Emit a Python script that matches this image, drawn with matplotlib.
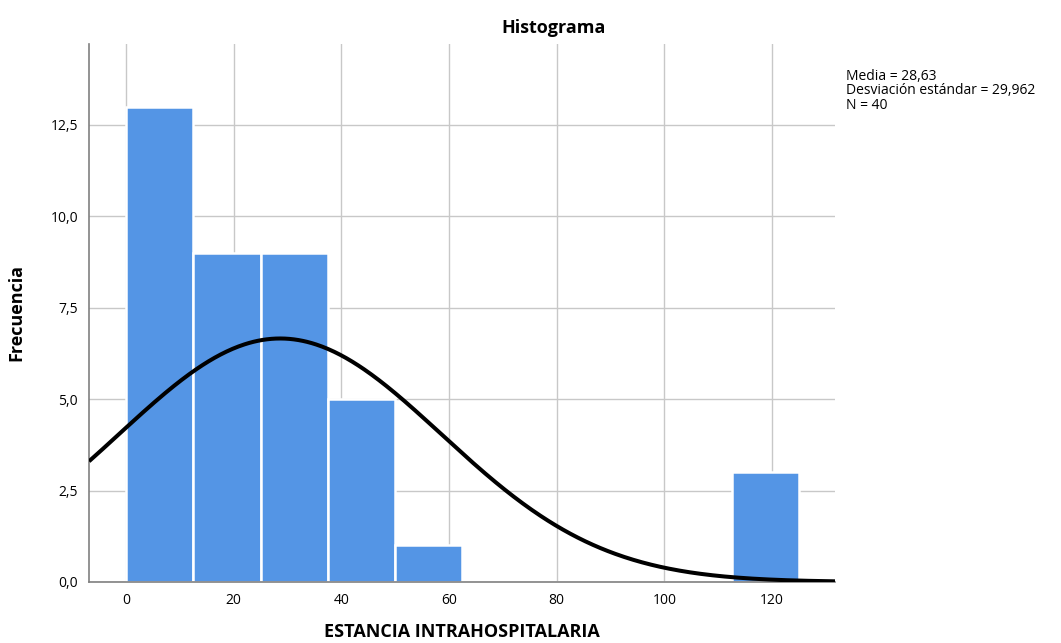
import numpy as np
import matplotlib
matplotlib.use('Agg')
import matplotlib.pyplot as plt

# Histogram counts (bins of width 12.5 starting at 0)
bin_edges = [0, 12.5, 25, 37.5, 50, 62.5, 75, 87.5, 100, 112.5, 125]
counts = [13, 9, 9, 5, 1, 0, 0, 0, 0, 3]

# Summary stats shown in the chart
mean = 28.63
std = 29.962
n = 40

x_ticks = [0, 20, 40, 60, 80, 100, 120]
y_ticks = [0.0, 2.5, 5.0, 7.5, 10.0, 12.5]
y_tick_labels = ['0,0', '2,5', '5,0', '7,5', '10,0', '12,5']

plt.rcParams['font.family'] = ['Open Sans', 'DejaVu Sans']

fig = plt.figure(figsize=(10.61, 6.43), dpi=100)
ax = fig.add_axes([0.0839, 0.0949, 0.7031, 0.8367])

widths = np.diff(bin_edges)
ax.bar(bin_edges[:-1], counts, width=widths, align='edge', color='#5495e5',
       edgecolor='white', linewidth=1.8, zorder=2)

# Normal curve scaled to counts
xs = np.linspace(-6.87, 131.7, 500)
bw = widths[0]
ys = n * bw / (std * np.sqrt(2 * np.pi)) * np.exp(-0.5 * ((xs - mean) / std) ** 2)
ax.plot(xs, ys, color='black', linewidth=2.9, zorder=3, solid_capstyle='butt')

ax.set_xlim(-6.87, 131.7)
ax.set_ylim(0, 14.71)
ax.set_xticks(x_ticks)
ax.set_xticklabels([str(t) for t in x_ticks])
ax.set_yticks(y_ticks)
ax.set_yticklabels(y_tick_labels)
ax.tick_params(length=0, labelsize=10, pad=8)

ax.grid(True, color='#c8c8c8', linewidth=1.0, zorder=0)
ax.set_axisbelow(True)
for s in ['top', 'right']:
    ax.spines[s].set_visible(False)
for s in ['left', 'bottom']:
    ax.spines[s].set_color('#808080')
    ax.spines[s].set_linewidth(1.2)

ax.set_xlabel('ESTANCIA INTRAHOSPITALARIA', fontsize=13, fontweight='bold', labelpad=11)
ax.set_ylabel('Frecuencia', fontsize=13, fontweight='bold', labelpad=18)

fig.text(0.522, 0.957, 'Histograma', ha='center', va='center', fontsize=13, fontweight='bold')
fig.text(0.797, 0.893, 'Media = 28,63\nDesviación estándar = 29,962\nN = 40',
         ha='left', va='top', fontsize=10, linespacing=0.95)

fig.savefig('out.png', dpi=100)
